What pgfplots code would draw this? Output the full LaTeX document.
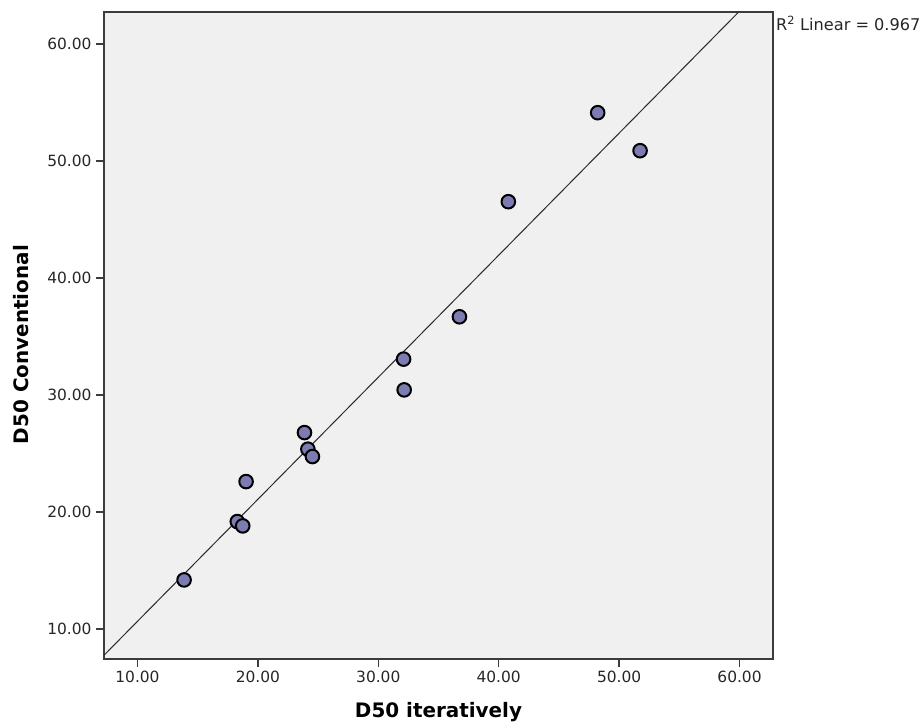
\documentclass[border=0pt]{standalone}
\usepackage{fontspec}
\setmainfont{DejaVu Sans}
\usepackage{pgfplots}
\pgfplotsset{compat=1.18}
\definecolor{spssbg}{RGB}{240,240,240}
\definecolor{spssdot}{RGB}{124,124,178}
\definecolor{axgray}{RGB}{60,60,60}
\begin{document}
\begin{tikzpicture}
\path[use as bounding box] (-104bp,-68bp) rectangle (820bp,659bp);
\begin{axis}[
  name=ax,
  scale only axis,
  width=669bp, height=647bp,
  xmin=7.22, xmax=62.78,
  ymin=7.43, ymax=62.75,
  axis background/.style={fill=spssbg},
  axis line style={draw=axgray, line width=1.5bp},
  xtick={10,20,30,40,50,60},
  ytick={10,20,30,40,50,60},
  xtick pos=bottom, ytick pos=left,
  tick align=outside,
  major tick length=8bp,
  every tick/.style={draw=axgray, line width=1.5bp},
  /pgf/number format/assume math mode=true,
  /pgf/number format/.cd, fixed, fixed zerofill, precision=2,
  /pgfplots/.cd,
  tick label style={font=\fontsize{15.5}{17}\selectfont, text=black!85},
  xticklabel style={yshift=-1bp},
  yticklabel style={xshift=-1bp},
  xlabel={D50 iteratively},
  ylabel={D50 Conventional},
  label style={font=\bfseries\fontsize{20}{22}\selectfont},
  xlabel style={at={(axis description cs:0.5,0)}, anchor=center, yshift=-53bp},
  ylabel style={at={(axis description cs:-0.124,0.486)}, anchor=center},
  clip=true,
]
\addplot[axgray!70!black, line width=1bp] coordinates {(7.22,7.75) (59.93,62.75)};
\addplot[only marks, mark=*, mark size=6.8bp,
  mark options={fill=spssdot, draw=black, line width=2bp}] coordinates {
(13.87,14.19)
(18.29,19.18)
(18.74,18.81)
(19.02,22.60)
(23.87,26.79)
(24.15,25.37)
(24.53,24.74)
(32.10,33.07)
(32.15,30.44)
(36.74,36.69)
(40.80,46.53)
(48.22,54.14)
(51.74,50.89)
};
\end{axis}
\node[anchor=north west, inner sep=0pt, font=\fontsize{16.2}{18}\selectfont, text=black!85]
  at ([xshift=3bp,yshift=-4bp]ax.north east) {R\textsuperscript{2} Linear = 0.967};
\end{tikzpicture}
\end{document}
